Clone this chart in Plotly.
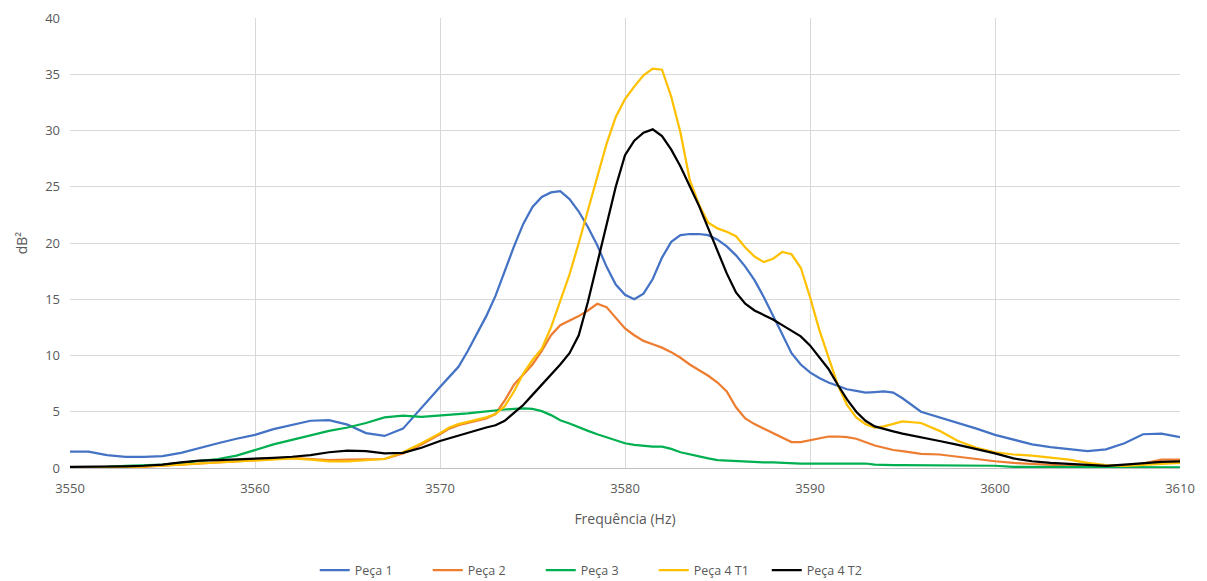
import plotly.graph_objects as go

# Frequency grid (Hz): 1 Hz steps on the tails, 0.5 Hz through the resonance
freq = (list(range(3550, 3570))
        + [3570 + 0.5 * i for i in range(51)]
        + list(range(3596, 3611)))

peca1 = [1.45, 1.45, 1.15, 1.0, 1.0, 1.05, 1.35, 1.8, 2.2, 2.6, 2.95, 3.45, 3.85, 4.2, 4.25, 3.85, 3.1, 2.85, 3.5, 5.4,
         7.2, 8.1, 9.0, 10.4, 12.0, 13.5, 15.3, 17.5, 19.7, 21.7, 23.2, 24.1, 24.5, 24.6, 23.9, 22.8, 21.4, 19.8, 17.9, 16.3,
         15.4, 15.0, 15.5, 16.8, 18.7, 20.1, 20.7, 20.8, 20.8, 20.7, 20.3, 19.7, 18.9, 17.9, 16.7, 15.2, 13.6, 11.9, 10.2, 9.2,
         8.5, 8.0, 7.6, 7.3, 7.0, 6.85, 6.7, 6.75, 6.8, 6.7, 6.2,
         5.0, 4.5, 4.05, 3.5, 2.95, 2.5, 2.1, 1.85, 1.7, 1.5, 1.65, 2.2, 3.0, 3.05, 2.75]

peca2 = [0.05, 0.05, 0.05, 0.1, 0.1, 0.2, 0.3, 0.4, 0.5, 0.6, 0.7, 0.8, 0.9, 0.8, 0.7, 0.75, 0.8, 0.8, 1.3, 2.1,
         3.0, 3.5, 3.8, 4.0, 4.2, 4.4, 4.8, 6.0, 7.4, 8.3, 9.2, 10.4, 11.8, 12.7, 13.1, 13.5, 14.0, 14.6, 14.3, 13.3,
         12.4, 11.8, 11.3, 11.0, 10.7, 10.3, 9.8, 9.2, 8.7, 8.2, 7.6, 6.8, 5.4, 4.4, 3.9, 3.5, 3.1, 2.7, 2.3, 2.3,
         2.45, 2.65, 2.8, 2.8, 2.75, 2.6, 2.3, 2.0, 1.8, 1.6, 1.5,
         1.25, 1.2, 1.0, 0.75, 0.6, 0.45, 0.35, 0.25, 0.2, 0.15, 0.15, 0.2, 0.4, 0.75, 0.75]

peca3 = [0.05, 0.05, 0.1, 0.2, 0.25, 0.3, 0.45, 0.6, 0.8, 1.1, 1.6, 2.1, 2.5, 2.9, 3.3, 3.6, 4.0, 4.5, 4.65, 4.55,
         4.65, 4.7, 4.75, 4.85, 4.95, 5.05, 5.1, 5.2, 5.25, 5.3, 5.25, 5.05, 4.7, 4.25, 3.95, 3.6, 3.3, 3.0, 2.75, 2.45,
         2.2, 2.05, 1.95, 1.9, 1.9, 1.7, 1.4, 1.2, 1.0, 0.85, 0.7, 0.65, 0.6, 0.55, 0.5, 0.5, 0.5, 0.45, 0.4, 0.4,
         0.4, 0.4, 0.4, 0.4, 0.4, 0.4, 0.4, 0.3, 0.25, 0.25, 0.25,
         0.25, 0.25, 0.25, 0.25, 0.2, 0.1, 0.1, 0.1, 0.1, 0.05, 0.05, 0.05, 0.05, 0.05, 0.05]

peca4_t1 = [0.05, 0.05, 0.05, 0.1, 0.15, 0.2, 0.3, 0.4, 0.5, 0.6, 0.7, 0.8, 0.85, 0.75, 0.6, 0.6, 0.7, 0.8, 1.4, 2.2,
            3.1, 3.6, 3.9, 4.1, 4.3, 4.5, 4.8, 5.5, 6.8, 8.4, 9.6, 10.6, 12.5, 14.8, 17.2, 20.0, 22.9, 26.0, 28.8, 31.2,
            32.8, 33.9, 34.9, 35.5, 35.4, 33.0, 29.8, 25.6, 23.4, 21.8, 21.3, 21.0, 20.6, 19.6, 18.8, 18.3, 18.6, 19.2, 19.0, 17.8,
            15.2, 12.3, 9.8, 7.4, 5.6, 4.5, 3.9, 3.6, 3.7, 3.95, 4.15,
            4.0, 3.3, 2.4, 1.8, 1.4, 1.2, 1.1, 0.95, 0.75, 0.45, 0.25, 0.2, 0.3, 0.4, 0.45]

peca4_t2 = [0.1, 0.1, 0.1, 0.15, 0.2, 0.3, 0.5, 0.65, 0.7, 0.75, 0.8, 0.9, 1.0, 1.15, 1.4, 1.55, 1.5, 1.3, 1.35, 1.8,
            2.4, 2.65, 2.9, 3.15, 3.4, 3.6, 3.8, 4.2, 4.9, 5.6, 6.5, 7.4, 8.3, 9.2, 10.2, 11.8, 14.8, 18.2, 21.6, 25.0,
            27.8, 29.1, 29.8, 30.1, 29.5, 28.3, 26.8, 25.0, 23.3, 21.3, 19.3, 17.3, 15.6, 14.6, 14.0, 13.6, 13.2, 12.7, 12.2, 11.7,
            10.9, 9.9, 8.8, 7.4, 6.1, 5.0, 4.2, 3.7, 3.45, 3.25, 3.05,
            2.75, 2.4, 2.05, 1.7, 1.3, 0.85, 0.6, 0.45, 0.35, 0.25, 0.2, 0.3, 0.45, 0.55, 0.6]

series_names = ["Peça 1", "Peça 2", "Peça 3", "Peça 4 T1", "Peça 4 T2"]
series_values = [peca1, peca2, peca3, peca4_t1, peca4_t2]
series_colors = ["#4472C4", "#ED7D31", "#00B050", "#FFC000", "#000000"]

x_ticks = [3550, 3560, 3570, 3580, 3590, 3600, 3610]
y_ticks = [0, 5, 10, 15, 20, 25, 30, 35, 40]

fig = go.Figure()
for name, vals, color in zip(series_names, series_values, series_colors):
    fig.add_trace(go.Scatter(
        x=freq, y=vals, name=name, mode="lines",
        line=dict(color=color, width=2.25),
    ))

font_family = "Open Sans, Liberation Sans, sans-serif"
tick_font = dict(family=font_family, size=13, color="#595959")
title_font = dict(family=font_family, size=14, color="#595959")

fig.update_layout(
    width=1207, height=581,
    margin=dict(l=70, r=27, t=18, b=113, autoexpand=False),
    paper_bgcolor="white", plot_bgcolor="white",
    font=dict(family=font_family, size=12, color="#595959"),
    showlegend=True,
    legend=dict(
        orientation="h", x=0.475, xanchor="center",
        y=-0.228, yanchor="middle",
        font=dict(family=font_family, size=12.5, color="#595959"),
        itemwidth=30, entrywidth=68, entrywidthmode="pixels",
        traceorder="normal",
    ),
    xaxis=dict(
        range=[3550, 3610], tickvals=x_ticks,
        showgrid=True, gridcolor="#D9D9D9", gridwidth=1,
        zeroline=False, showline=True, linecolor="#BFBFBF", linewidth=1,
        ticks="", ticklabelstandoff=8, tickfont=tick_font,
        title=dict(text="Frequência (Hz)", standoff=18, font=title_font),
    ),
    yaxis=dict(
        range=[0, 40], tickvals=y_ticks,
        showgrid=True, gridcolor="#D9D9D9", gridwidth=1,
        zeroline=False, showline=False,
        ticks="", ticklabelstandoff=9, tickfont=tick_font,
        title=dict(text="dB²", standoff=14, font=title_font),
    ),
)

fig.write_html("out.html")
